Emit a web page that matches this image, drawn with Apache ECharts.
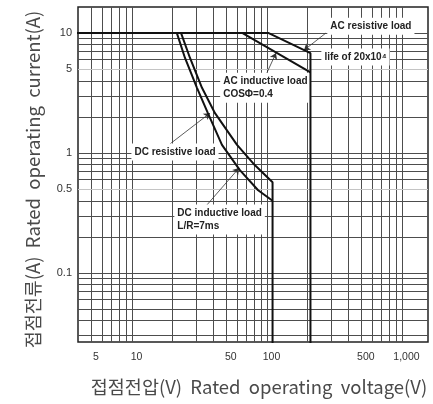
<!DOCTYPE html>
<html>
<head>
<meta charset="utf-8">
<script src="https://cdn.jsdelivr.net/npm/echarts@6/dist/echarts.min.js"></script>
<style>
  html, body { margin: 0; padding: 0; background: #fff; }
  #chart { width: 433px; height: 404px; }
</style>
</head>
<body>
<div id="chart"></div>
<script>
// Axis extents: rated voltage (V) and rated current (A)
const voltRange = [3.98, 1560];
const ampRange = [0.0266, 16.5];

// Labelled ticks
const voltTicks = [5, 10, 50, 100, 500, 1000];
const voltTickLabels = ['5', '10', '50', '100', '500', '1,000'];
const ampTicks = [0.1, 0.5, 1, 5, 10];
const ampTickLabels = ['0.1', '0.5', '1', '5', '10'];

// Log grid lines
const voltGrid = [5, 6, 7, 8, 9, 10, 20, 30, 40, 50, 60, 70, 80, 90, 100,
                  200, 300, 400, 500, 600, 700, 800, 900, 1000];
const ampGrid = [0.03, 0.04, 0.05, 0.06, 0.07, 0.08, 0.09, 0.1, 0.2, 0.3, 0.4,
                 0.6, 0.7, 0.8, 0.9, 1, 2, 3, 4, 6, 7, 8, 9, 10];
const ampGridLight = [0.5, 5];

// Switching capacity limits
const acResistiveV = [3, 103, 210, 210];
const acResistiveA = [10, 10, 6.8, 0.01];
const acInductiveV = [66, 210];
const acInductiveA = [10, 4.7];
const dcResistiveV = [23.1, 26.9, 33, 41.2, 60, 81.5, 110, 110];
const dcResistiveA = [10, 6.2, 3.5, 2.15, 1.17, 0.79, 0.57, 0.01];
const dcInductiveV = [21.5, 24.7, 30.3, 36.5, 46.4, 63, 86, 110];
const dcInductiveA = [10, 6.2, 3.5, 2.15, 1.17, 0.72, 0.49, 0.40];

// Callout texts and where they sit (left edge, vertical centre)
const noteText = ['AC resistive load', 'life of 20x10\u2074', 'AC inductive load\nCOS\u03A6=0.4',
                  'DC resistive load', 'DC inductive load\nL/R=7ms'];
const noteV = [280, 253, 45, 9.9, 20.6];
const noteA = [11.4, 6.31, 3.51, 1.02, 0.279];

// Leader arrows (tail -> head)
const arrowFromV = [273, 96.6, 19.1, 34.8];
const arrowFromA = [10, 4.3, 1.19, 0.355];
const arrowToV = [188, 116.6, 37.8, 62.1];
const arrowToA = [7.2, 6.81, 2.15, 0.75];

const pairs = (xs, ys) => xs.map((x, i) => [x, ys[i]]);
const labelFor = (values, texts) => v => {
  let best = 0, bestD = Infinity;
  values.forEach((t, i) => {
    const d = Math.abs(Math.log(v / t));
    if (d < bestD) { bestD = d; best = i; }
  });
  return texts[best];
};

const curveStyle = { color: '#111', width: 2 };
const lineBase = { type: 'line', symbol: 'none', clip: true, silent: true, lineStyle: curveStyle };
const titleStyle = { fontSize: 18.5, color: '#4a4a4a', fontFamily: 'Noto Sans CJK KR' };

const chart = echarts.init(document.getElementById('chart'), null, { renderer: 'canvas' });
chart.setOption({
  animation: false,
  backgroundColor: '#fff',
  grid: {
    left: 78, right: 5, top: 7, bottom: 62,
    show: true, borderColor: '#222', borderWidth: 1.5,
    outerBoundsMode: 'none'
  },
  xAxis: {
    type: 'log', logBase: 10,
    min: voltRange[0], max: voltRange[1],
    axisLine: { show: false },
    axisTick: { show: false, customValues: voltGrid },
    splitLine: { show: true, lineStyle: { color: '#4d4d4d', width: 1 } },
    axisLabel: {
      customValues: voltTicks,
      formatter: labelFor(voltTicks, voltTickLabels),
      margin: 10, color: '#333', fontSize: 10.5,
      fontFamily: 'Liberation Sans', padding: [0, 0, 0, 9]
    },
    name: '접점전압(V)  Rated  operating  voltage(V)',
    nameLocation: 'middle', nameGap: 36,
    nameTextStyle: Object.assign({ padding: [0, 0, 0, 12] }, titleStyle)
  },
  yAxis: {
    type: 'log', logBase: 10,
    min: ampRange[0], max: ampRange[1],
    axisLine: { show: false },
    axisTick: { show: false, customValues: ampGrid },
    splitLine: { show: true, lineStyle: { color: '#4d4d4d', width: 1 } },
    axisLabel: {
      customValues: ampTicks,
      formatter: labelFor(ampTicks, ampTickLabels),
      margin: 6, color: '#333', fontSize: 11, fontFamily: 'Liberation Sans'
    },
    name: '접점전류(A)  Rated  operating  current(A)',
    nameLocation: 'middle', nameGap: 36, nameRotate: 90,
    nameTextStyle: Object.assign({ padding: [0, 10, 0, 0] }, titleStyle)
  },
  series: [
    Object.assign({}, lineBase, {
      name: 'AC resistive load', data: pairs(acResistiveV, acResistiveA), z: 5,
      markLine: {
        silent: true, symbol: 'none', animation: false,
        label: { show: false },
        lineStyle: { color: '#c4c4c4', width: 1, type: 'solid' },
        data: ampGridLight.map(v => ({ yAxis: v }))
      }
    }),
    Object.assign({}, lineBase, {
      name: 'AC inductive load', data: pairs(acInductiveV, acInductiveA), z: 5,
      markLine: {
        silent: true, symbol: ['none', 'arrow'], symbolSize: 6, animation: false,
        label: { show: false },
        lineStyle: { color: '#333', width: 0.8, type: 'solid' },
        data: arrowFromV.map((v, i) => [
          { coord: [v, arrowFromA[i]] },
          { coord: [arrowToV[i], arrowToA[i]] }
        ])
      }
    }),
    Object.assign({}, lineBase, {
      name: 'DC resistive load', data: pairs(dcResistiveV, dcResistiveA), z: 5
    }),
    Object.assign({}, lineBase, {
      name: 'DC inductive load', data: pairs(dcInductiveV, dcInductiveA), z: 5,
      markPoint: {
        silent: true, animation: false,
        symbol: 'circle', symbolSize: 0,
        label: {
          show: true, position: 'right', distance: 0,
          formatter: '{b}',
          color: '#222', fontSize: 10, fontWeight: 'bold',
          fontFamily: 'Liberation Sans', lineHeight: 13,
          backgroundColor: '#fff', padding: [2, 3]
        },
        data: noteText.map((t, i) => ({ name: t, coord: [noteV[i], noteA[i]] }))
      }
    })
  ]
});
</script>
</body>
</html>
